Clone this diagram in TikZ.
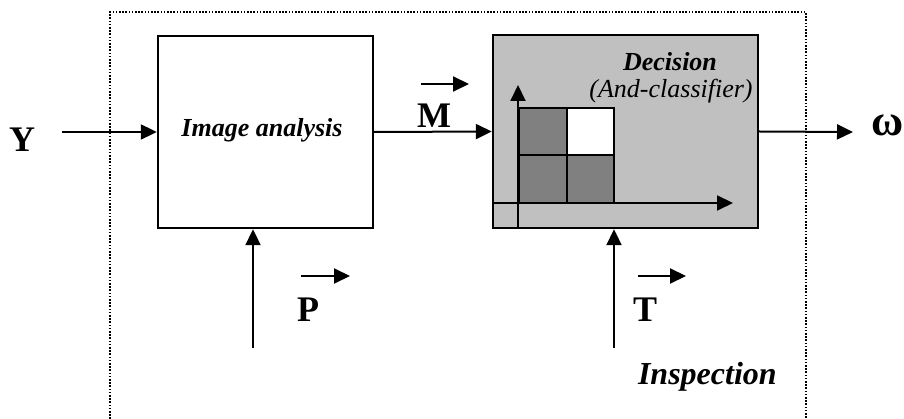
\documentclass[tikz,border=0pt]{standalone}
\usepackage{fontspec}
\setmainfont{Liberation Serif}
\usetikzlibrary{arrows.meta}
\definecolor{boxgray}{RGB}{192,192,192}
\definecolor{cellgray}{RGB}{128,128,128}
\begin{document}
\begin{tikzpicture}[x=1pt,y=-1pt,
  line width=2pt,
  tip/.style={-{Triangle[length=16pt,width=15pt]}},
  blockbox/.style={draw,line width=2.4pt,inner sep=0pt},
  biglabel/.style={font=\fontsize{36}{40}\selectfont\bfseries,anchor=base,inner sep=0pt},
  midlabel/.style={font=\fontsize{26}{30}\selectfont\bfseries\itshape,anchor=base,inner sep=0pt},
  vecarrow/.style={tip,line width=2pt}]
\useasboundingbox (0,0) rectangle (904,419);
% dotted frame
\draw[line width=1.6pt,dash pattern=on 1.6pt off 1.6pt] (110,419) -- (110,12) -- (806,12) -- (806,419);
% blocks
\node[blockbox,fill=white,minimum width=215pt,minimum height=192pt] (ia) at (265.5,132) {};
\node[blockbox,fill=boxgray,minimum width=265pt,minimum height=193pt] (dec) at (625.5,131.5) {};
% inner classifier plot
\fill[cellgray] (519,108) rectangle (614,203);
\fill[white] (566.5,108) rectangle (614,155.5);
\draw[line width=2pt] (519,108) rectangle (614,203);
\draw[line width=2pt] (566.5,108) -- (566.5,203);
\draw[line width=2pt] (519,155.5) -- (614,155.5);
\coordinate (vax0) at (518,228);
\coordinate (vax1) at (518,85);
\coordinate (hax0) at (493,203);
\coordinate (hax1) at (733,203);
\draw[tip] (vax0) -- (vax1);
\draw[tip] (hax0) -- (hax1);
% texts
\node[midlabel] (iatext) at (262,137) {Image analysis};
\node[midlabel] (dectext) at (670,71) {Decision};
\node[font=\fontsize{26}{30}\selectfont\itshape,anchor=base,inner sep=0pt] (andc) at (671,98) {(And-classifier)};
\node[biglabel] (Y) at (22,152) {Y};
\node[biglabel] (M) at (434,128) {M};
\node[biglabel] (P) at (308,322) {P};
\node[biglabel] (T) at (645,322) {T};
\node[font=\fontsize{44}{46}\selectfont\bfseries,anchor=base,inner sep=0pt] (om) at (888,136) {ω};
\node[font=\fontsize{32}{36}\selectfont\bfseries\itshape,anchor=base west,inner sep=0pt] (insp) at (637,384) {Inspection};
% vector arrows
\coordinate (mv0) at (421,84); \coordinate (mv1) at (469,84);
\coordinate (pv0) at (301,276); \coordinate (pv1) at (350,276);
\coordinate (tv0) at (638,276); \coordinate (tv1) at (686,276);
\draw[vecarrow] (mv0) -- (mv1);
\draw[vecarrow] (pv0) -- (pv1);
\draw[vecarrow] (tv0) -- (tv1);
% connectors
\coordinate (yin) at (62,132);
\coordinate (wout) at (853,132);
\coordinate (pin) at (253,348);
\coordinate (tin) at (614,348);
\draw[tip] (yin) -- (ia.west);
\draw[tip] (ia.east) -- (dec.west);
\draw[tip] (dec.east) -- (wout);
\draw[tip] (pin) -- (pin |- ia.south);
\draw[tip] (tin) -- (tin |- dec.south);
\end{tikzpicture}
\end{document}
